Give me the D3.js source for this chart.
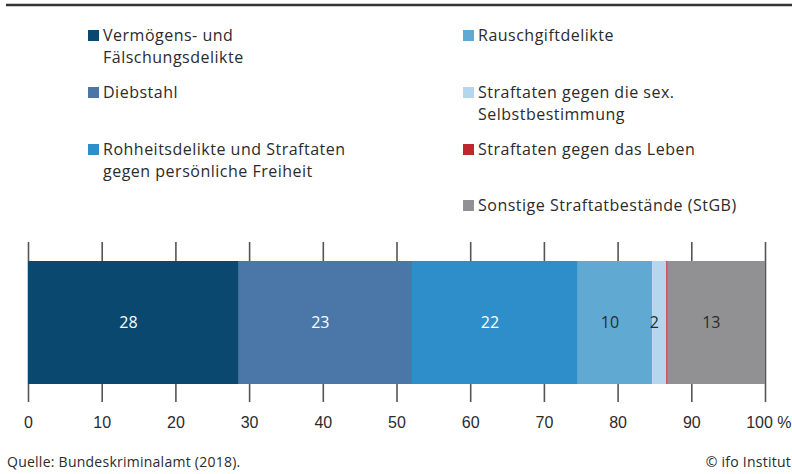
<!DOCTYPE html>
<html>
<head>
<meta charset="utf-8">
<script src="https://cdn.jsdelivr.net/npm/d3@7"></script>
<style>
  html, body { margin: 0; padding: 0; background: #fff; }
  svg { display: block; font-family: "Open Sans", Lato, sans-serif; }
</style>
</head>
<body>
<svg id="chart" width="792" height="474"></svg>
<script>
// ---- data ----
const categories = [
  "Vermögens- und Fälschungsdelikte",
  "Diebstahl",
  "Rohheitsdelikte und Straftaten gegen persönliche Freiheit",
  "Rauschgiftdelikte",
  "Straftaten gegen die sex. Selbstbestimmung",
  "Straftaten gegen das Leben",
  "Sonstige Straftatbestände (StGB)"
];
const legendLines = [
  ["Vermögens- und", "Fälschungsdelikte"],
  ["Diebstahl"],
  ["Rohheitsdelikte und Straftaten", "gegen persönliche Freiheit"],
  ["Rauschgiftdelikte"],
  ["Straftaten gegen die sex.", "Selbstbestimmung"],
  ["Straftaten gegen das Leben"],
  ["Sonstige Straftatbestände (StGB)"]
];
const values = [28.6, 23.5, 22.5, 10.1, 1.9, 0.2, 13.2];
const valueLabels = ["28", "23", "22", "10", "2", "", "13"];
const tickValues = [0, 10, 20, 30, 40, 50, 60, 70, 80, 90, 100];
const sourceText = "Quelle: Bundeskriminalamt (2018).";
const creditText = "© ifo Institut";

// ---- styles ----
const colors = ["#0b4870", "#4a76a8", "#2d8ec9", "#5fa9d3", "#b5d6ec", "#c0272d", "#919193"];
const labelColors = ["#fff", "#fff", "#fff", "#2b2b2b", "#2b2b2b", "#2b2b2b", "#2b2b2b"];
const textColor = "#2b2b2b";

const svg = d3.select("#chart");

// top rule
svg.append("line")
  .attr("x1", 6).attr("x2", 792).attr("y1", 5).attr("y2", 5)
  .attr("stroke", "#333").attr("stroke-width", 2.5);

// scales
const x = d3.scaleLinear().domain([0, 100]).range([28, 765]);
const barTop = 261, barBottom = 384;

// stacked data
let cum = 0;
const segs = values.map((v, i) => {
  const s = { i, x0: cum, x1: cum + v, label: valueLabels[i] };
  cum += v;
  return s;
});

// axis with gridlines behind bar
const axisY = 402;
const axis = d3.axisBottom(x)
  .tickValues(tickValues)
  .tickSizeInner(-(axisY - 242))
  .tickSizeOuter(0)
  .tickPadding(14.5)
  .tickFormat(d3.format("d"));
const gAxis = svg.append("g").attr("transform", `translate(0,${axisY})`).call(axis);
gAxis.select(".domain").remove();
gAxis.selectAll(".tick line").attr("stroke", "#555").attr("stroke-width", 1.6);
gAxis.selectAll(".tick text")
  .attr("fill", textColor)
  .attr("font-size", 16)
  .attr("font-family", null);
// percent sign after last tick label
const lastTick = gAxis.selectAll(".tick text").filter(d => d === 100);
lastTick.append("tspan").text(" %");
lastTick.attr("text-anchor", "end").attr("x", 26);

// bars
svg.append("g").selectAll("rect")
  .data(segs)
  .join("rect")
  .attr("x", d => x(d.x0))
  .attr("width", d => x(d.x1) - x(d.x0))
  .attr("y", barTop)
  .attr("height", barBottom - barTop)
  .attr("fill", d => colors[d.i]);

// value labels
svg.append("g").selectAll("text")
  .data(segs.filter(d => d.label !== ""))
  .join("text")
  .attr("x", d => (x(d.x0) + x(d.x1)) / 2 - 5)
  .attr("y", (barTop + barBottom) / 2)
  .attr("dy", "0.35em")
  .attr("text-anchor", "middle")
  .attr("font-size", 16)
  .attr("fill", d => labelColors[d.i])
  .text(d => d.label);

// legend
const legendCols = [88, 463];
const legendRows = [30, 87, 144, 200];
const legendPos = [[0, 0], [0, 1], [0, 2], [1, 0], [1, 1], [1, 2], [1, 3]];
const lg = svg.append("g").selectAll("g")
  .data(categories.map((c, i) => ({ c, i })))
  .join("g")
  .attr("transform", d => `translate(${legendCols[legendPos[d.i][0]]},${legendRows[legendPos[d.i][1]]})`);
lg.append("rect")
  .attr("width", 11).attr("height", 11)
  .attr("fill", d => colors[d.i]);
lg.each(function(d) {
  const t = d3.select(this).append("text")
    .attr("x", 15).attr("y", 11)
    .attr("font-size", 16)
    .attr("letter-spacing", 0.5)
    .attr("fill", textColor);
  legendLines[d.i].forEach((line, k) => {
    t.append("tspan").attr("x", 15).attr("dy", k === 0 ? 0 : 22).text(line);
  });
});

// footer
svg.append("text")
  .attr("x", 7).attr("y", 467)
  .attr("font-size", 14).attr("letter-spacing", 0.25).attr("fill", textColor)
  .text(sourceText);
svg.append("text")
  .attr("x", 791).attr("y", 467)
  .attr("text-anchor", "end")
  .attr("font-size", 14).attr("letter-spacing", 0.25).attr("fill", textColor)
  .text(creditText);
</script>
</body>
</html>
